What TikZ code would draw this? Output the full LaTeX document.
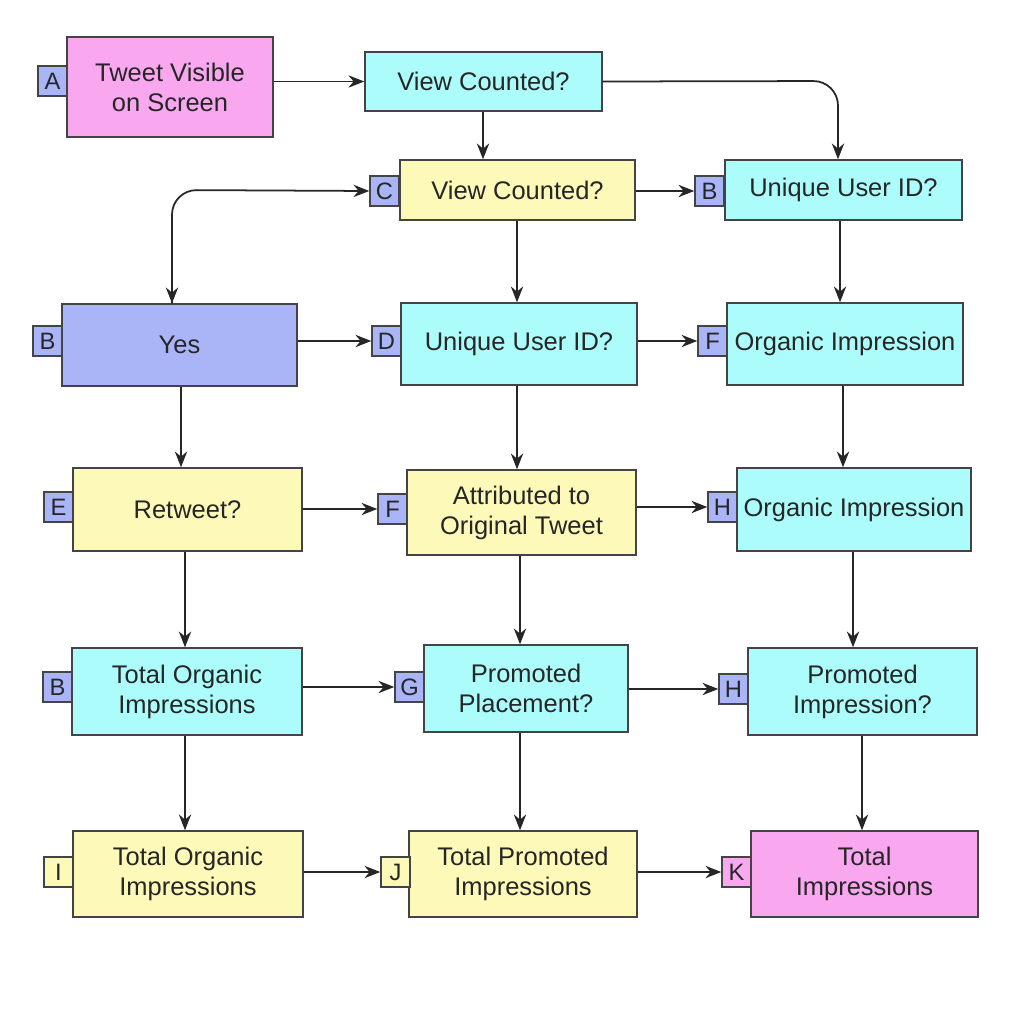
\documentclass[tikz,border=0pt]{standalone}
\usepackage{fontspec}
\setmainfont{Liberation Sans}
\usetikzlibrary{arrows.meta}
\definecolor{pk}{HTML}{F9A8F0}
\definecolor{cy}{HTML}{ADFCFC}
\definecolor{ye}{HTML}{FDF9B8}
\definecolor{bl}{HTML}{AAB5F8}
\definecolor{ln}{HTML}{444444}
\newcommand{\bx}[7]{% name, l,t,r,b, fill, text
  \node[box,fill=#6,minimum width={(#4-#2)*0.02cm},minimum height={(#5-#3)*0.02cm},inner sep=0pt] (#1) at ({(#2+#4)/2},{(#3+#5)/2}) {#7};}
\newcommand{\tg}[5]{% name, l,t,fill,text
  \node[tag,fill=#4,minimum width=0.58cm,minimum height=0.6cm,inner sep=0pt] (#1) at ({#2+14.5},{#3+15}) {#5};}
\begin{document}
\begin{tikzpicture}[x=0.02cm,y=-0.02cm,
  box/.style={draw=ln,line width=0.8pt,align=center,font=\fontsize{14.5}{17}\selectfont,text=black!85},
  tag/.style={draw=ln,line width=0.8pt,font=\fontsize{13.5}{15}\selectfont,text=black!85},
  arr/.style={-{Stealth[length=9pt,width=7pt]},line width=1pt,black!85}]
\useasboundingbox (0,0) rectangle (1024,1024);
\bx{a}{67}{37}{273}{137}{pk}{Tweet Visible\\on Screen}
\tg{ta}{38}{66}{bl}{A}
\bx{v}{365}{52}{602}{111}{cy}{View Counted?}
\bx{c}{400}{160}{635}{220}{ye}{View Counted?}
\tg{tc}{370}{176}{bl}{C}
\bx{u}{725}{160}{962}{220}{cy}{Unique User ID?}
\tg{tu}{695}{176}{bl}{B}
\bx{y}{62}{304}{297}{386}{bl}{Yes}
\tg{ty}{33}{326}{bl}{B}
\bx{d}{401}{303}{637}{385}{cy}{Unique User ID?}
\tg{td}{372}{326}{bl}{D}
\bx{f}{727}{303}{963}{385}{cy}{Organic Impression}
\tg{tf}{698}{326}{bl}{F}
\bx{e}{73}{468}{302}{551}{ye}{Retweet?}
\tg{te}{44}{492}{bl}{E}
\bx{at}{407}{470}{636}{555}{ye}{Attributed to\\Original Tweet}
\tg{tat}{378}{494}{bl}{F}
\bx{h}{737}{468}{971}{551}{cy}{Organic Impression}
\tg{th}{708}{492}{bl}{H}
\bx{b}{72}{648}{302}{735}{cy}{Total Organic\\Impressions}
\tg{tb}{43}{672}{bl}{B}
\bx{g}{424}{645}{628}{732}{cy}{Promoted\\Placement?}
\tg{tg}{395}{672}{bl}{G}
\bx{hp}{748}{648}{977}{735}{cy}{Promoted\\Impression?}
\tg{thp}{719}{674}{bl}{H}
\bx{i}{73}{831}{303}{917}{ye}{Total Organic\\Impressions}
\tg{ti}{44}{857}{ye}{I}
\bx{j}{409}{831}{637}{917}{ye}{Total Promoted\\Impressions}
\tg{tj}{381}{857}{ye}{J}
\bx{k}{751}{831}{978}{917}{pk}{Total\\Impressions}
\tg{tk}{722}{857}{pk}{K}
\coordinate (v1) at (838,81);
\coordinate (y1) at (172,190);
\draw[arr] (a.east|-v.west) -- (v.west);
\draw[arr] (v.south-|483,0) -- (c.north-|483,0);
\draw[arr,rounded corners=14pt] (v.east) -- (v1) -- (u.north-|v1);
\draw[arr,rounded corners=14pt] (y.north-|172,0) -- (y1) -- (tc.west);
\draw[arr] (172,230) -- (y.north-|172,0);
\draw[arr] (c.east|-tu.west) -- (tu.west);
\draw[arr] (c.south-|517,0) -- (d.north-|517,0);
\draw[arr] (u.south-|840,0) -- (f.north-|840,0);
\draw[arr] (y.east|-td.west) -- (td.west);
\draw[arr] (d.east|-tf.west) -- (tf.west);
\draw[arr] (y.south-|181,0) -- (e.north-|181,0);
\draw[arr] (d.south-|517,0) -- (at.north-|517,0);
\draw[arr] (f.south-|843,0) -- (h.north-|843,0);
\draw[arr] (e.east|-tat.west) -- (tat.west);
\draw[arr] (at.east|-th.west) -- (th.west);
\draw[arr] (e.south-|185,0) -- (b.north-|185,0);
\draw[arr] (at.south-|520,0) -- (g.north-|520,0);
\draw[arr] (h.south-|853,0) -- (hp.north-|853,0);
\draw[arr] (b.east|-tg.west) -- (tg.west);
\draw[arr] (g.east|-thp.west) -- (thp.west);
\draw[arr] (b.south-|185,0) -- (i.north-|185,0);
\draw[arr] (g.south-|520,0) -- (j.north-|520,0);
\draw[arr] (hp.south-|862,0) -- (k.north-|862,0);
\draw[arr] (i.east|-tj.west) -- (tj.west);
\draw[arr] (j.east|-tk.west) -- (tk.west);
\end{tikzpicture}
\end{document}
